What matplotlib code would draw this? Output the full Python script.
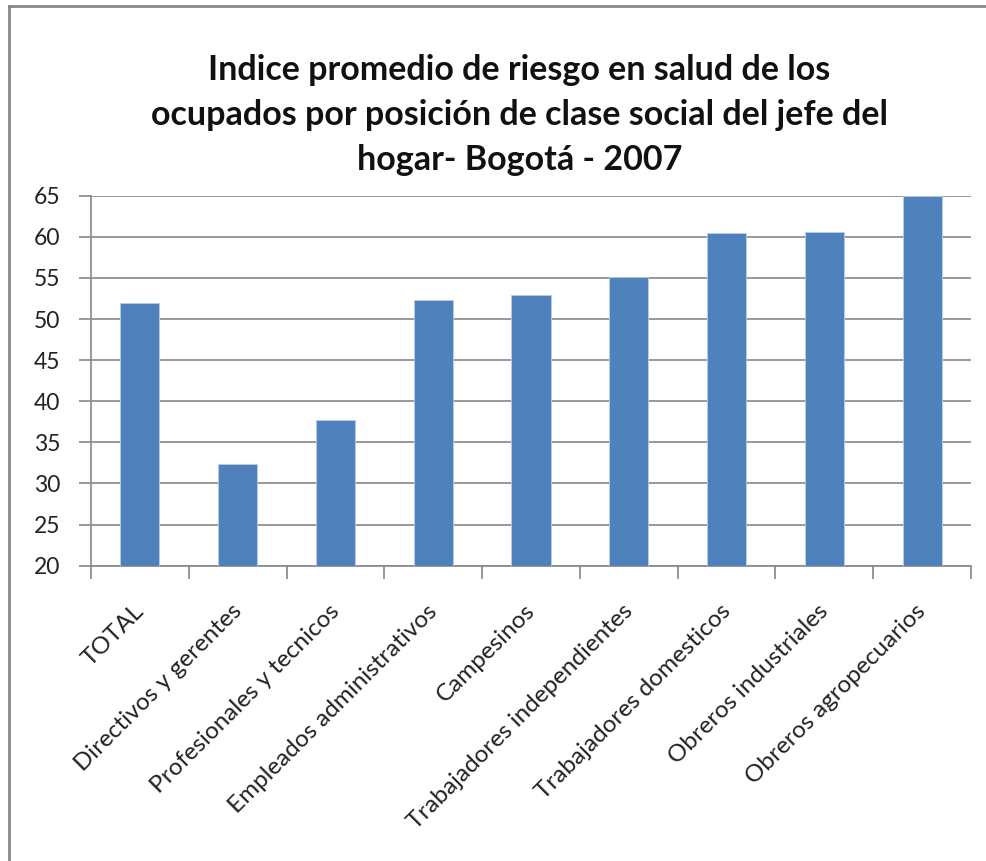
import matplotlib
matplotlib.use("Agg")
import matplotlib.pyplot as plt
from matplotlib.lines import Line2D

categories = ["TOTAL", "Directivos y gerentes", "Profesionales y tecnicos",
              "Empleados administrativos", "Campesinos", "Trabajadores independientes",
              "Trabajadores domesticos", "Obreros industriales", "Obreros agropecuarios"]
values = [51.9, 32.4, 37.7, 52.3, 52.9, 55.1, 60.5, 60.6, 65.0]
yticks = [20, 25, 30, 35, 40, 45, 50, 55, 60, 65]
title = "Indice promedio de riesgo en salud de los\nocupados por posición de clase social del jefe del\nhogar- Bogotá - 2007"

plt.rcParams['font.family'] = ['Lato', 'DejaVu Sans']

fig = plt.figure(figsize=(9.86, 8.61), dpi=100)
ax = fig.add_axes([91/986, 1-565.7/861, (971-91)/986, (565.7-195.7)/861])

x = list(range(len(categories)))
ax.bar(x, values, width=0.4, color="#4F81BD", edgecolor="#B9CDE5", linewidth=0.6, zorder=3)
ax.set_xlim(-0.5, len(categories)-0.5)
ax.set_ylim(20, 65)
ax.set_yticks(yticks)
ax.set_yticklabels([str(v) for v in yticks], fontsize=16.5, color="#222222")
ax.yaxis.grid(True, color="#888888", linewidth=1.2, zorder=0)
ax.set_axisbelow(True)

ax.set_xticks([i - 0.5 for i in range(len(categories)+1)], minor=True)
ax.set_xticks(x)
ax.set_xticklabels([])
ax.tick_params(axis='x', which='major', length=0)
ax.tick_params(axis='x', which='minor', length=9, color="#888888", width=1.2)
ax.tick_params(axis='y', length=9, color="#888888", width=1.2, pad=13)

for i, lab in enumerate(categories):
    ax.annotate(lab, xy=(i, 20), xycoords='data', xytext=(-5, -25), textcoords='offset points',
                rotation=45, ha='right', va='top', rotation_mode='anchor',
                fontsize=17.5, color="#222222", annotation_clip=False)

for s in ['top', 'right']:
    ax.spines[s].set_visible(False)
for s in ['left', 'bottom']:
    ax.spines[s].set_color("#888888")
    ax.spines[s].set_linewidth(1.2)

fig.text(0.527, 1-54/861, title, ha='center', va='top', fontsize=24.5, fontweight='bold',
         linespacing=1.5, color="#111111")

# outer chart frame (left and top edges visible)
fig.add_artist(Line2D([9/986, 9/986], [0, 1-6/861], transform=fig.transFigure, color="#888888", linewidth=2))
fig.add_artist(Line2D([9/986, 1], [1-6/861, 1-6/861], transform=fig.transFigure, color="#888888", linewidth=2))

fig.savefig("out.png", dpi=100)
